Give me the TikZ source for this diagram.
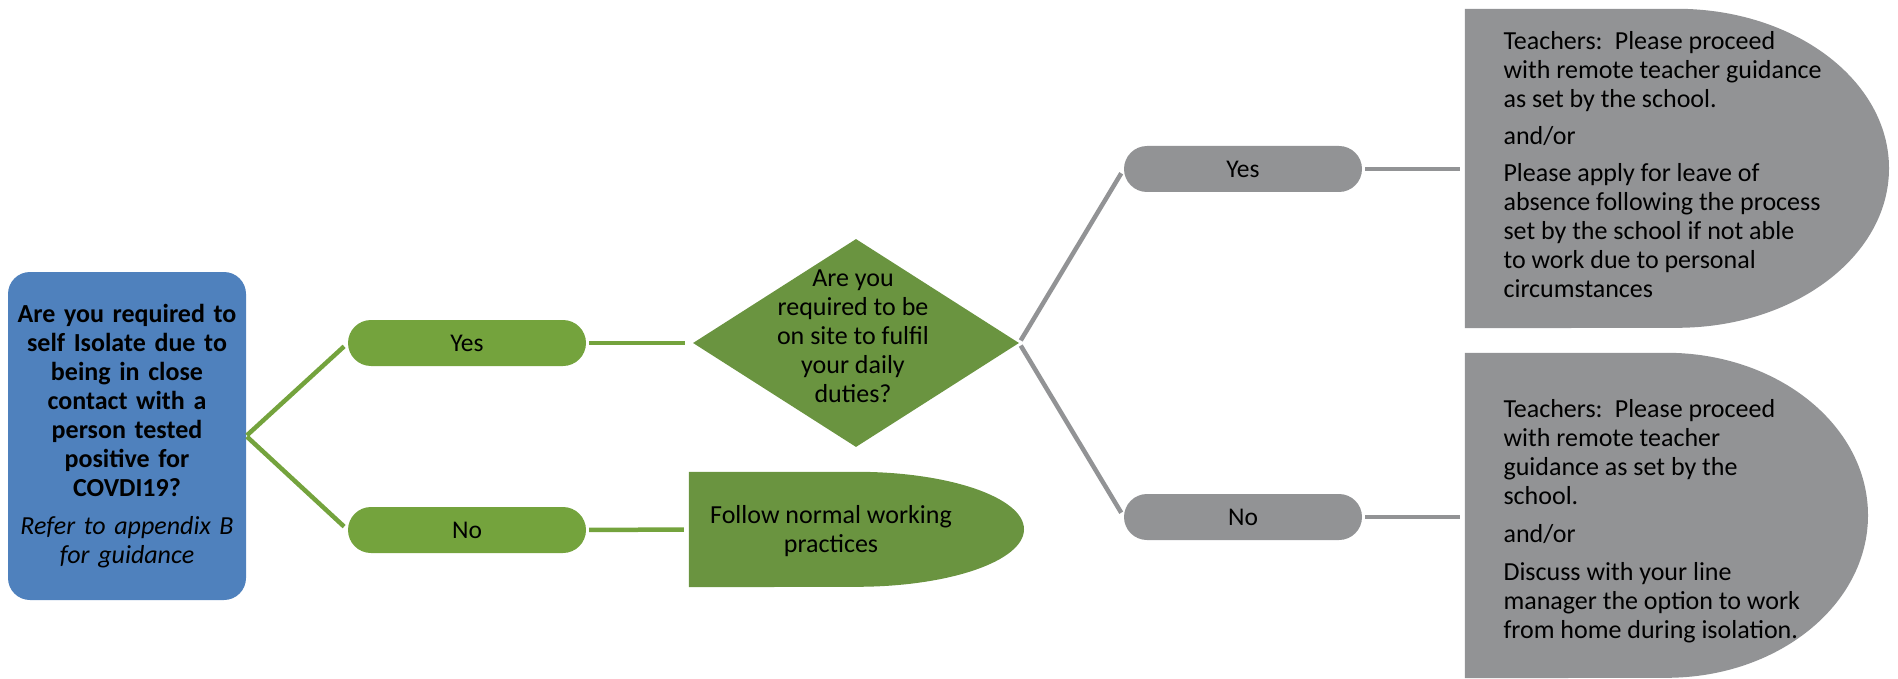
\documentclass[tikz,border=0pt]{standalone}
\usepackage{fontspec}
\setmainfont{Carlito}
\usetikzlibrary{shapes.geometric}

\begin{document}
\begin{tikzpicture}[x=1pt,y=-1pt,
        txt/.style={font=\fontsize{26pt}{29pt}\selectfont},
        pill/.style={rectangle, rounded corners=23pt, minimum width=238pt, minimum height=46pt, inner sep=0pt, font=\fontsize{25.5pt}{29pt}\selectfont},
        link/.style={line width=4.5pt, shorten <=3pt, shorten >=5pt}]
        \definecolor{qblue}{RGB}{79,129,189}
        \definecolor{pillgreen}{RGB}{116,163,61}
        \definecolor{darkgreen}{RGB}{106,148,64}
        \definecolor{boxgrey}{RGB}{146,147,149}

        \useasboundingbox (0,0) rectangle (1898,679);

        % start question
        \node[txt, fill=qblue, rounded corners=22pt, minimum width=238pt, minimum height=328pt, text width=230pt, align=center, inner sep=0pt] (q1) at (127,436)
            {\bfseries Are you required to\\self Isolate due to\\being in close\\contact with a\\person tested\\positive for\\COVDI19?\\[9pt]
             \mdseries\itshape Refer to appendix B\\for guidance};

        \node[pill, fill=pillgreen] (yes1) at (467,343) {Yes};
        \node[pill, fill=pillgreen] (no1) at (467,530) {No};

        % on site question
        \node[diamond, fill=darkgreen, minimum width=326pt, minimum height=208pt, inner sep=0pt] (q2) at (856,343) {};
        \node[txt, align=center] (q2txt) at (853,336) {Are you\\required to be\\on site to fulfil\\your daily\\duties?};

        \node[minimum width=335pt, minimum height=115pt, inner sep=0pt] (follow) at (856.5,529.5) {};
        \fill[darkgreen] (follow.north west) -- (follow.north) arc[start angle=90, end angle=-90, x radius=167.5pt, y radius=57.5pt] -- (follow.south west) -- cycle;
        \node[txt, align=center] (followtxt) at (831,531) {Follow normal working\\practices};

        \node[pill, fill=boxgrey] (yes2) at (1243,169) {Yes};
        \node[pill, fill=boxgrey] (no2) at (1243,517) {No};

        % outcomes
        \node[minimum width=424pt, minimum height=319pt, inner sep=0pt] (act1) at (1677,168.5) {};
        \fill[boxgrey] (act1.north west) -- (act1.north) arc[start angle=90, end angle=-90, x radius=212pt, y radius=159.5pt] -- (act1.south west) -- cycle;
        \node[txt, align=left, anchor=west] (act1txt) at (1500,165)
            {Teachers:\, Please proceed\\with remote teacher guidance\\as set by the school.\\[8pt]
             and/or\\[8pt]
             Please apply for leave of\\absence following the process\\set by the school if not able\\to work due to personal\\circumstances};

        \node[minimum width=403pt, minimum height=325pt, inner sep=0pt] (act2) at (1666.5,515.5) {};
        \fill[boxgrey] (act2.north west) -- (act2.north) arc[start angle=90, end angle=-90, x radius=201.5pt, y radius=162.5pt] -- (act2.south west) -- cycle;
        \node[txt, align=left, anchor=west] (act2txt) at (1500,521)
            {Teachers:\, Please proceed\\with remote teacher\\guidance as set by the\\school.\\[9pt]
             and/or\\[9pt]
             Discuss with your line\\manager the option to work\\from home during isolation.};

        %connectors
        \draw[link, pillgreen, shorten <=1pt] (q1.east) -- (yes1.west);
        \draw[link, pillgreen, shorten <=1pt] (q1.east) -- (no1.west);
        \draw[link, pillgreen, shorten >=8pt] (yes1.east) -- (q2.west);
        \draw[link, pillgreen] (no1.east) -- (follow.west);
        \draw[link, boxgrey] (q2.east) -- (yes2.west);
        \draw[link, boxgrey] (q2.east) -- (no2.west);
        \draw[link, boxgrey] (yes2.east) -- (yes2.east -| act1.west);
        \draw[link, boxgrey] (no2.east) -- (no2.east -| act2.west);
    \end{tikzpicture}
\end{document}
